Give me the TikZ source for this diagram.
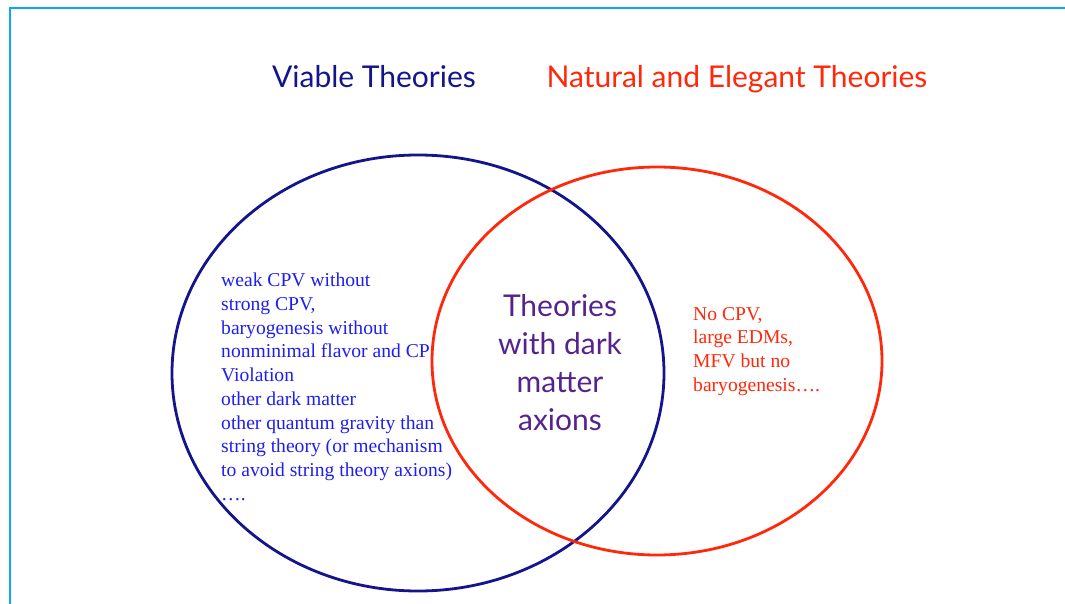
\documentclass[tikz,border=0pt]{standalone}
\usepackage{fontspec}
\setmainfont{Liberation Serif}
\newfontfamily\gillfont{Lato}
\definecolor{viable}{RGB}{20,20,140}
\definecolor{natural}{RGB}{255,40,10}
\definecolor{viabletext}{RGB}{30,30,240}
\definecolor{axion}{RGB}{85,35,140}
\definecolor{slideframe}{RGB}{10,170,240}

\begin{document}
\begin{tikzpicture}[x=1pt,y=-1pt,
    title/.style={anchor=base, inner sep=0pt, font=\gillfont\fontsize{30}{36}\selectfont},
    list/.style={anchor=north west, align=left, inner sep=0pt, font=\fontsize{19.6}{23.7}\selectfont}]
                \useasboundingbox (0,0) rectangle (1065,604);
                % slide frame
                \draw[slideframe, line width=1.8pt] (10,604) -- (10,8) -- (1065,8);

                % the two sets
                \draw[viable, line width=2.8pt] (418,373) ellipse [x radius=246, y radius=218];
                \draw[natural, line width=2.8pt] (657,361) ellipse [x radius=225, y radius=194];

                \node[title, text=viable] (viab) at (374,88) {Viable Theories};
                \node[title, text=natural] (nat) at (737,88) {Natural and Elegant Theories};

                \node[list, text=viabletext] (left) at (221,273) {weak CPV without\\
                    strong CPV,\\
                    baryogenesis without\\
                    nonminimal flavor and CP\\
                    Violation\\
                    other dark matter\\
                    other quantum gravity than\\
                    string theory (or mechanism\\
                    to avoid string theory axions)\\
                    \dots.};
                \node[list, text=natural] (right) at (693,307) {No CPV,\\
                    large EDMs,\\
                    MFV but no\\
                    baryogenesis\dots.};

                \node[align=center, inner sep=0pt, text=axion, font=\gillfont\fontsize{30}{38}\selectfont] (both) at (560,363)
                    {Theories\\ with dark\\ matter\\ axions};
            \end{tikzpicture}
\end{document}
